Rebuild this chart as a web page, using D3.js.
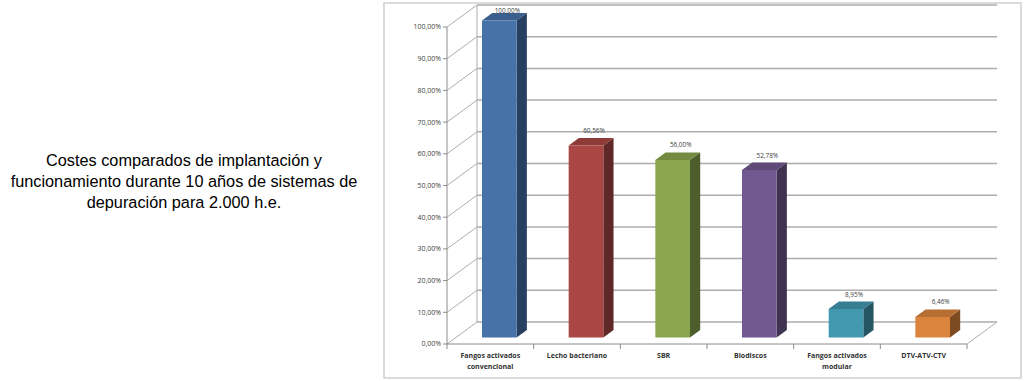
<!DOCTYPE html>
<html><head><meta charset="utf-8">
<script src="https://cdn.jsdelivr.net/npm/d3@7"></script>
<style>body{margin:0;background:#fff}svg{display:block}</style>
</head><body>
<svg id="c" width="1029" height="381"></svg>
<script>
const titleLines = ["Costes comparados de implantación y","funcionamiento durante 10 años de sistemas de","depuración para 2.000 h.e."];
const categories = ["Fangos activados\nconvencional","Lecho bacteriano","SBR","Biodiscos","Fangos activados\nmodular","DTV-ATV-CTV"];
const values = [1.0, 0.6056, 0.56, 0.5278, 0.0895, 0.0646];
const colors = ["#4672A8","#AA4643","#89A54E","#71588F","#4198AF","#DB843D"];
const yTicks = [0,0.1,0.2,0.3,0.4,0.5,0.6,0.7,0.8,0.9,1.0];

const svg = d3.select("#c");
const loc = d3.formatLocale({decimal:",",thousands:".",grouping:[3],currency:["","€"]});
const fmt = loc.format(".2%");

// title
const t = svg.append("text").attr("x",184).attr("y",166)
  .attr("font-family","Liberation Sans, Arial, sans-serif").attr("font-size",16.3)
  .attr("fill","#000").attr("text-anchor","middle");
titleLines.forEach((l,i)=>t.append("tspan").attr("x",184).attr("dy",i?21:0).text(l));

// frame
svg.append("rect").attr("x",384).attr("y",3).attr("width",637).attr("height",375)
  .attr("fill","none").attr("stroke","#cfcfcf").attr("stroke-width",1.5);

const x0=447, x1=967;
const x = d3.scaleBand().domain(categories).range([x0,x1]).paddingInner(0.6).paddingOuter(0.3);
const y = d3.scaleLinear().domain([0,1]).range([344,27]);
const DX=30, DY=-22;
const P=(px,py,f)=>[px+DX*f, py+DY*f];
const grid="#adadad";

// back wall gridlines
yTicks.forEach(v=>{
  const a=P(x0,y(v),1), b=P(x1,y(v),1);
  svg.append("line").attr("x1",a[0]).attr("y1",a[1]).attr("x2",b[0]).attr("y2",b[1])
    .attr("stroke",grid).attr("stroke-width",1.5);
  svg.append("line").attr("x1",x0).attr("y1",y(v)).attr("x2",a[0]).attr("y2",a[1])
    .attr("stroke",grid).attr("stroke-width",1);
});
{const a=P(x0,y(0),1),b=P(x0,y(1),1);
svg.append("line").attr("x1",a[0]).attr("y1",a[1]).attr("x2",b[0]).attr("y2",b[1]).attr("stroke",grid).attr("stroke-width",1);}
{const b=P(x1,y(0),1);
svg.append("line").attr("x1",x1).attr("y1",y(0)).attr("x2",b[0]).attr("y2",b[1]).attr("stroke",grid).attr("stroke-width",1);}

// front y axis
const axisCol="#8c8c8c";
svg.append("line").attr("x1",x0).attr("y1",y(0)).attr("x2",x0).attr("y2",y(1)).attr("stroke",axisCol).attr("stroke-width",1);
yTicks.forEach(v=>{
  svg.append("line").attr("x1",x0-4).attr("x2",x0).attr("y1",y(v)).attr("y2",y(v)).attr("stroke",axisCol);
  svg.append("text").attr("x",x0-6).attr("y",y(v)).attr("dy","0.35em")
    .attr("text-anchor","end").attr("font-family","Open Sans, sans-serif").attr("font-size",7)
    .attr("fill","#404040").text(fmt(v));
});
// front x axis
svg.append("line").attr("x1",x0).attr("x2",x1).attr("y1",y(0)).attr("y2",y(0)).attr("stroke",axisCol);
const step=x.step();
d3.range(categories.length+1).forEach(i=>{
  const xx=x0+i*step;
  svg.append("line").attr("x1",xx).attr("x2",xx).attr("y1",y(0)).attr("y2",y(0)+5).attr("stroke",axisCol);
});
categories.forEach(c=>{
  const cx=x(c)+x.bandwidth()/2;
  const tt=svg.append("text").attr("x",cx).attr("y",358).attr("text-anchor","middle")
    .attr("font-family","Open Sans, sans-serif").attr("font-size",7).attr("font-weight","bold").attr("fill","#333");
  c.split("\n").forEach((l,i)=>tt.append("tspan").attr("x",cx).attr("dy",i?10.5:0).text(l));
});

// bars
const fF=0.3, fB=0.64;
categories.forEach((c,i)=>{
  const v=values[i], col=d3.color(colors[i]);
  const xl=x(c), xr=x(c)+x.bandwidth();
  const ft=P(xl,y(v),fF), fb=P(xl,y(0),fF), frt=P(xr,y(v),fF), frb=P(xr,y(0),fF);
  const bt=P(xl,y(v),fB), brt=P(xr,y(v),fB), brb=P(xr,y(0),fB);
  const poly=pts=>pts.map(p=>p.join(",")).join(" ");
  svg.append("polygon").attr("points",poly([frt,brt,brb,frb])).attr("fill",col.darker(1.6));
  svg.append("polygon").attr("points",poly([ft,frt,brt,bt])).attr("fill",col.darker(0.5));
  svg.append("polygon").attr("points",poly([ft,frt,frb,fb])).attr("fill",col);
  const ly=Math.max(ft[1]-12.5,12.5);
  svg.append("text").attr("x",(ft[0]+frt[0])/2+8).attr("y",ly).attr("text-anchor","middle")
    .attr("font-family","Open Sans, sans-serif").attr("font-size",6.4).attr("fill","#404040").text(fmt(v));
});
</script>
</body></html>
